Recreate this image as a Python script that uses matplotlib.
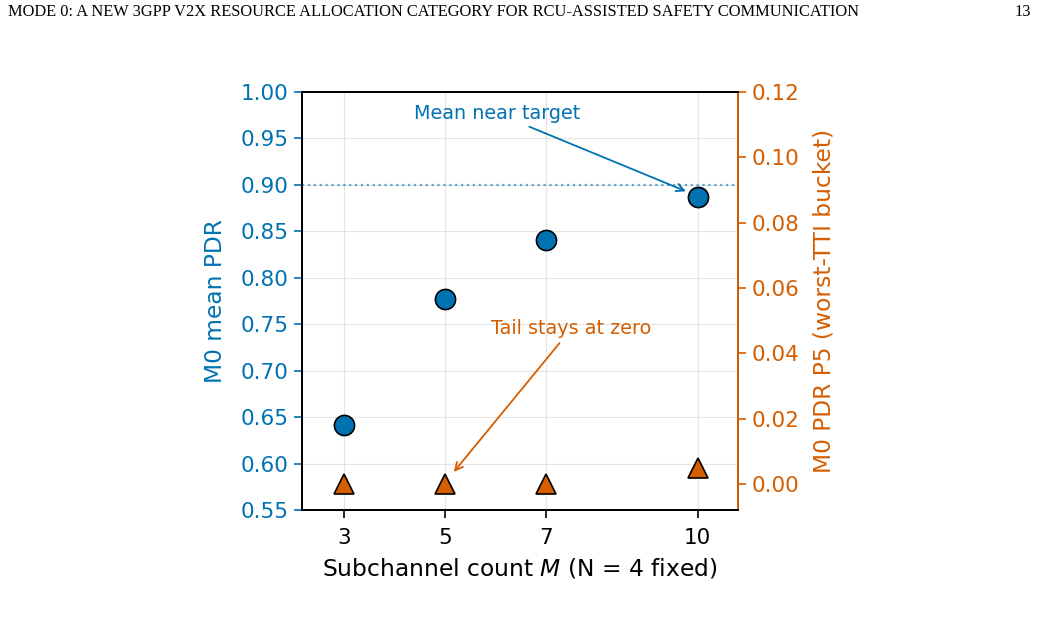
import matplotlib
matplotlib.use("Agg")
import matplotlib.pyplot as plt

# data
subchannels = [3, 5, 7, 10]
mean_pdr = [0.642, 0.777, 0.841, 0.887]
p5_pdr = [0.0, 0.0, 0.0, 0.005]
target = 0.90

BLUE = "#0072B2"
ORANGE = "#D55E00"

plt.rcParams["font.family"] = "DejaVu Sans"

fig = plt.figure(figsize=(10.41, 6.26), dpi=100)
ax = fig.add_axes([302 / 1041, 1 - 510 / 626, 436 / 1041, 418 / 626])
ax2 = ax.twinx()

ax.grid(True, color="#cccccc", alpha=0.5, linewidth=0.8)
ax.set_axisbelow(True)
ax.axhline(target, color=BLUE, linestyle=":", linewidth=1.6, alpha=0.6)

ax.plot(subchannels, mean_pdr, "o", color=BLUE, markersize=14.5,
        markeredgecolor="black", markeredgewidth=1.2, zorder=5)
ax2.plot(subchannels, p5_pdr, "^", color=ORANGE, markersize=14.5,
         markeredgecolor="black", markeredgewidth=1.2, zorder=5)

ax.set_xlim(2.17, 10.8)
ax.set_xticks(subchannels)
ax.set_ylim(0.55, 1.00)
ax.set_yticks([0.55, 0.60, 0.65, 0.70, 0.75, 0.80, 0.85, 0.90, 0.95, 1.00])
ax.yaxis.set_major_formatter(matplotlib.ticker.FormatStrFormatter("%.2f"))
ax2.set_ylim(-0.008, 0.12)
ax2.set_yticks([0.00, 0.02, 0.04, 0.06, 0.08, 0.10, 0.12])
ax2.yaxis.set_major_formatter(matplotlib.ticker.FormatStrFormatter("%.2f"))

ax.tick_params(axis="x", labelsize=15.5, length=6, width=1.2, pad=7)
ax.tick_params(axis="y", labelsize=15.5, length=6, width=1.2,
               colors=BLUE, labelcolor=BLUE)
ax2.tick_params(axis="y", labelsize=15.5, length=6, width=1.2,
                colors=ORANGE, labelcolor=ORANGE)

for s in ax.spines.values():
    s.set_linewidth(1.4)
for s in ax2.spines.values():
    s.set_linewidth(1.4)
ax2.spines["right"].set_color(ORANGE)

ax.set_xlabel("Subchannel count $M$ (N = 4 fixed)", fontsize=16.8, labelpad=6)
ax.set_ylabel("M0 mean PDR", fontsize=16.8, color=BLUE, labelpad=10)
ax2.set_ylabel("M0 PDR P5 (worst-TTI bucket)", fontsize=16.8, color=ORANGE,
               labelpad=10)

ax.annotate("Mean near target", xy=(9.82, 0.892), xytext=(6.03, 0.977),
            ha="center", va="center", fontsize=13.8, color=BLUE,
            arrowprops=dict(arrowstyle="->", color=BLUE, lw=1.3))
ax2.annotate("Tail stays at zero", xy=(5.14, 0.003), xytext=(7.5, 0.0475),
             ha="center", va="center", fontsize=13.8, color=ORANGE,
             arrowprops=dict(arrowstyle="->", color=ORANGE, lw=1.3))

# page header of the paper
fig.text(8 / 1041, 1 - 12 / 626,
         "MODE 0: A NEW 3GPP V2X RESOURCE ALLOCATION CATEGORY FOR RCU-ASSISTED SAFETY COMMUNICATION",
         family="Liberation Serif", fontsize=11.8, va="center", ha="left")
fig.text(1031 / 1041, 1 - 12 / 626, "13", family="Liberation Serif",
         fontsize=11.8, va="center", ha="right")

fig.savefig("out.png", dpi=100)
